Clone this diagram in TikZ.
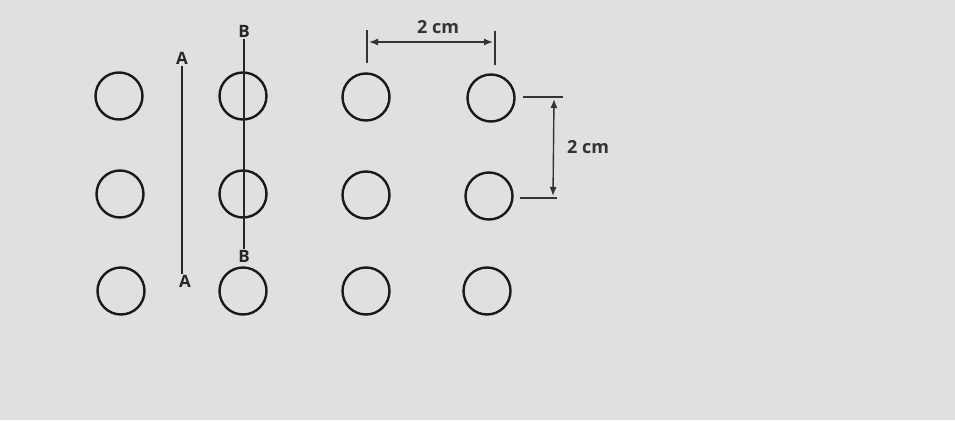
\documentclass[tikz,border=0pt]{standalone}
\usepackage{fontspec}
\setmainfont{Open Sans}
\usetikzlibrary{arrows.meta}

\begin{document}
\begin{tikzpicture}[
      x=1pt, y=-1pt,
      hole/.style ={draw=black!90, circle, line width=2.4pt, minimum size=47pt, inner sep=0pt},
      cut label/.style ={font=\fontsize{17}{17}\selectfont\bfseries, text=black!85, inner sep=1pt},
      cut line/.style ={line width=1.8pt, color=black!85},
      dim line/.style ={line width=1.4pt, color=black!80},
      size label/.style ={font=\fontsize{18}{18}\selectfont\bfseries, text=black!80, inner sep=0pt}]
    \fill[black!12] (0,0) rectangle (955,420);
    % holes
    \node[hole] (h11) at (119,96) {};
    \node[hole] (h12) at (243,96) {};
    \node[hole] (h13) at (366,97) {};
    \node[hole] (h14) at (491,98) {};
    \node[hole] (h21) at (120,194) {};
    \node[hole] (h22) at (243,194) {};
    \node[hole] (h23) at (366,195) {};
    \node[hole] (h24) at (489,196) {};
    \node[hole] (h31) at (121,291) {};
    \node[hole] (h32) at (243,291) {};
    \node[hole] (h33) at (366,291) {};
    \node[hole] (h34) at (487,291) {};
    % section lines
    \node[cut label] (A top) at (182,58.5) {A};
    \node[cut label] (A bottom) at (185,281.5) {A};
    \node[cut label] (B top) at (244,31.5) {B};
    \node[cut label] (B bottom) at (244,256.5) {B};
    \draw[cut line] (A top.south) -- (A top.south |- A bottom.north);
    \draw[cut line] (B top.south) -- (B top.south |- B bottom.north);
    % horizontal size
    \coordinate (left tick top) at (367,30);
    \coordinate (left tick end) at (367,63);
    \coordinate (right tick top) at (495,31);
    \coordinate (right tick end) at (495,65);
    \draw[dim line] (left tick top) -- (left tick end);
    \draw[dim line] (right tick top) -- (right tick end);
    \draw[dim line, {Latex[length=9pt,width=7pt]}-{Latex[length=9pt,width=7pt]}] (369,42) -- (493,42);
    \node[size label] (size across) at (438,27) {2 cm};
    % vertical size
    \coordinate (upper tick start) at (523,97);
    \coordinate (upper tick end) at (563,97);
    \coordinate (lower tick start) at (520,198);
    \coordinate (lower tick end) at (557,198);
    \draw[dim line] (upper tick start) -- (upper tick end);
    \draw[dim line] (lower tick start) -- (lower tick end);
    \draw[dim line, {Latex[length=9pt,width=7pt]}-{Latex[length=9pt,width=7pt]}] (554,99) -- (553,196);
    \node[size label] (size down) at (588,147) {2 cm};
    \end{tikzpicture}
\end{document}
